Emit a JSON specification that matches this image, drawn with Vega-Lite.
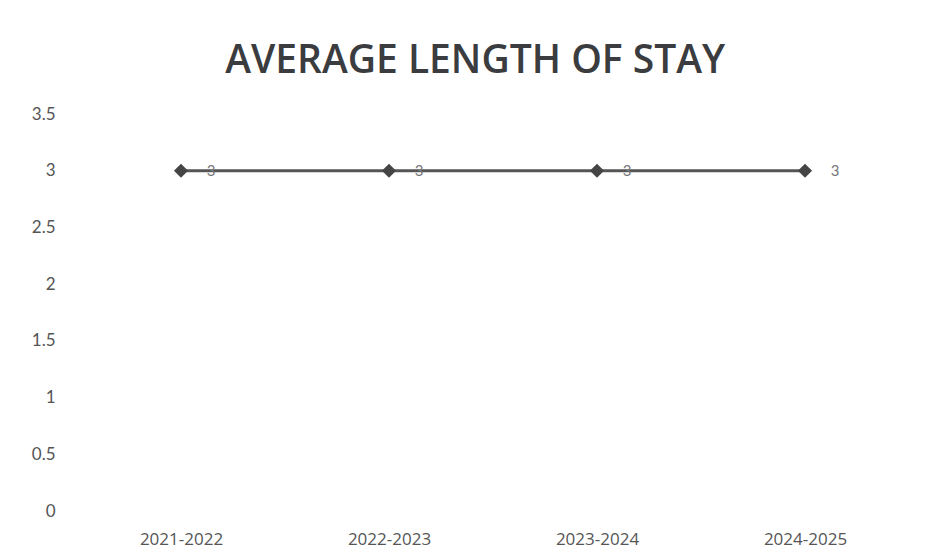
{
  "$schema": "https://vega.github.io/schema/vega-lite/v6.json",
  "width": 832,
  "height": 397,
  "autosize": {"type": "none"},
  "padding": {"left": 77, "top": 114, "right": 17, "bottom": 46},
  "background": "white",
  "title": {
    "text": "AVERAGE LENGTH OF STAY",
    "font": "Open Sans",
    "fontSize": 39,
    "fontWeight": 600,
    "color": "#3a3c40",
    "anchor": "middle",
    "frame": "bounds",
    "dx": 5,
    "offset": 24,
    "limit": 0
  },
  "data": {
    "values": [
      {"period": "2021-2022", "stay": 3},
      {"period": "2022-2023", "stay": 3},
      {"period": "2023-2024", "stay": 3},
      {"period": "2024-2025", "stay": 3}
    ]
  },
  "encoding": {
    "x": {
      "field": "period",
      "type": "ordinal",
      "scale": {"type": "point", "padding": 0.5},
      "axis": {
        "title": null,
        "labelAngle": 0,
        "domain": false,
        "ticks": false,
        "grid": false,
        "labelPadding": 20,
        "labelFont": "Open Sans",
        "labelFontSize": 17,
        "labelColor": "#555555"
      }
    },
    "y": {
      "field": "stay",
      "type": "quantitative",
      "scale": {"domain": [0, 3.5]},
      "axis": {
        "title": null,
        "values": [0, 0.5, 1, 1.5, 2, 2.5, 3, 3.5],
        "format": "~g",
        "domain": false,
        "ticks": false,
        "grid": false,
        "labelPadding": 22,
        "labelFont": "Lato",
        "labelFontSize": 17,
        "labelColor": "#555555"
      }
    }
  },
  "layer": [
    {
      "mark": {"type": "line", "color": "#555555", "strokeWidth": 3}
    },
    {
      "mark": {"type": "point", "shape": "diamond", "filled": true, "size": 200, "color": "#454545", "opacity": 1}
    },
    {
      "mark": {"type": "text", "dx": 30, "font": "Lato", "fontSize": 15, "color": "#777777"},
      "encoding": {"text": {"field": "stay", "type": "quantitative"}}
    }
  ],
  "config": {"view": {"stroke": null}}
}
